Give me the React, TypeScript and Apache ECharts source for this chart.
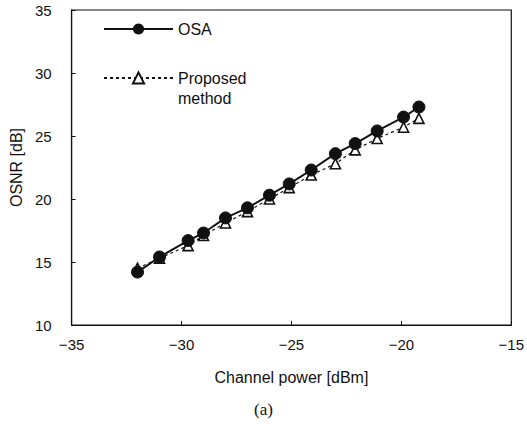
import React, { useEffect, useRef } from "react";
import * as echarts from "echarts";

const xValues = [-32, -31, -29.7, -29, -28, -27, -26, -25.1, -24.1, -23, -22.1, -21.1, -19.9, -19.2];
const osa = [14.2, 15.4, 16.7, 17.3, 18.5, 19.3, 20.3, 21.2, 22.3, 23.6, 24.4, 25.4, 26.5, 27.3];
const proposed = [14.5, 15.3, 16.3, 17.1, 18.1, 19.0, 20.0, 20.9, 21.9, 22.8, 23.9, 24.8, 25.7, 26.4];
const seriesNames = ["OSA", "Proposed method"];
const xTicks = { min: -35, max: -15, interval: 5 };
const yTicks = { min: 10, max: 35, interval: 5 };

const FONT = "Liberation Sans";

export default function App() {
  const ref = useRef<HTMLDivElement>(null);
  useEffect(() => {
    if (!ref.current) return;
    const chart = echarts.init(ref.current, null, { renderer: "svg" });
    chart.setOption({
      animation: false,
      backgroundColor: "#fff",
      grid: {
        left: 70,
        right: 15,
        top: 10,
        bottom: 99,
        show: true,
        borderColor: "#111",
        borderWidth: 1.2,
      },
      legend: {
        orient: "vertical",
        left: 103,
        top: 21,
        padding: 0,
        itemWidth: 69,
        itemHeight: 14,
        itemGap: 33,
        textStyle: { fontFamily: FONT, fontSize: 16, color: "#111" },
        data: [
          { name: seriesNames[0] },
          {
            name: seriesNames[1],
            textStyle: {
              padding: [20, 0, 0, 0],
              rich: {
                p: { fontFamily: FONT, fontSize: 16, color: "#111", lineHeight: 20 },
              },
            },
          },
        ],
        formatter: (n: string) => (n === seriesNames[1] ? "{p|Proposed}\n{p|method}" : n),
      },
      xAxis: {
        type: "value",
        min: xTicks.min,
        max: xTicks.max,
        interval: xTicks.interval,
        name: "Channel power [dBm]",
        nameLocation: "middle",
        nameGap: 44,
        nameTextStyle: { fontFamily: FONT, fontSize: 16, color: "#111" },
        axisLine: { show: true, lineStyle: { color: "#111", width: 1.2 } },
        axisTick: { show: true, inside: true, length: 4, lineStyle: { color: "#111" } },
        axisLabel: {
          fontFamily: FONT,
          fontSize: 15,
          color: "#111",
          margin: 12,
          formatter: (v: number) => (v < 0 ? "\u2212" + Math.abs(v) : String(v)),
        },
        splitLine: { show: false },
      },
      yAxis: {
        type: "value",
        min: yTicks.min,
        max: yTicks.max,
        interval: yTicks.interval,
        name: "OSNR [dB]",
        nameLocation: "middle",
        nameGap: 47,
        nameTextStyle: { fontFamily: FONT, fontSize: 16, color: "#111" },
        axisLine: { show: true, lineStyle: { color: "#111", width: 1.2 } },
        axisTick: { show: true, inside: true, length: 4, lineStyle: { color: "#111" } },
        axisLabel: { fontFamily: FONT, fontSize: 15, color: "#111", margin: 20 },
        splitLine: { show: false },
      },
      series: [
        {
          name: seriesNames[1],
          type: "line",
          data: xValues.map((x, i) => [x, proposed[i]]),
          symbol: "triangle",
          symbolSize: 10,
          itemStyle: { color: "#fff", borderColor: "#111", borderWidth: 1.6 },
          lineStyle: { color: "#111", width: 1.2, type: [3, 3] },
          z: 2,
        },
        {
          name: seriesNames[0],
          type: "line",
          data: xValues.map((x, i) => [x, osa[i]]),
          symbol: "circle",
          symbolSize: 12,
          itemStyle: { color: "#111", borderColor: "#111" },
          lineStyle: { color: "#111", width: 2 },
          z: 3,
        },
      ],
      graphic: [
        {
          type: "text",
          left: "center",
          top: 401,
          style: { text: "(a)", font: '17px "Liberation Serif"', fill: "#111" },
        },
      ],
    });
    return () => chart.dispose();
  }, []);
  return <div ref={ref} style={{ width: 527, height: 424, position: "fixed", left: 0, top: 0 }} />;
}
